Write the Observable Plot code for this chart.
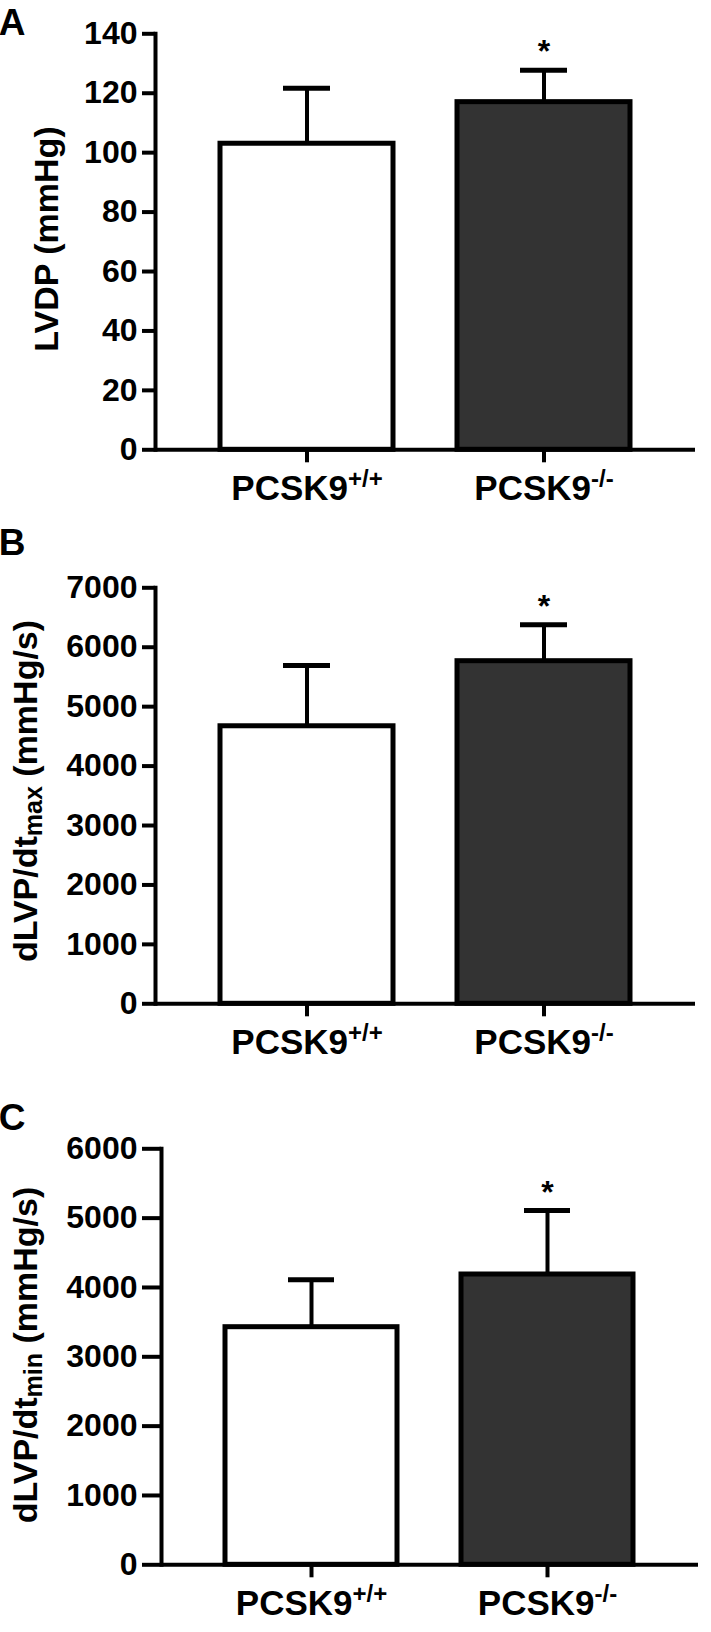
<!DOCTYPE html>
<html><head><meta charset="utf-8">
<script src="https://cdn.jsdelivr.net/npm/d3@7"></script>
<script src="https://cdn.jsdelivr.net/npm/@observablehq/plot@0.6"></script>
<style>
html,body{margin:0;padding:0;background:#fff;}
#wrap{position:relative;width:711px;height:1632px;overflow:hidden;}
#wrap > div{position:absolute;left:0;}
</style></head><body><div id="wrap"></div>
<script>
// ---- data ----
const groups = ["PCSK9+/+", "PCSK9-/-"];
const groupBase = ["PCSK9", "PCSK9"];
const groupSup = ["+/+", "-/-"];
const barFills = ["#ffffff", "#333333"];
const significance = ["", "*"];

const lvdpMean = [103, 117];
const lvdpErr = [18.7, 10.7];
const lvdpTicks = [0, 20, 40, 60, 80, 100, 120, 140];

const dmaxMean = [4670, 5765];
const dmaxErr = [1023, 612];
const dmaxTicks = [0, 1000, 2000, 3000, 4000, 5000, 6000, 7000];

const dminMean = [3427, 4187];
const dminErr = [684, 923];
const dminTicks = [0, 1000, 2000, 3000, 4000, 5000, 6000];

const FONT = "'Liberation Sans', Arial, Helvetica, sans-serif";

const panels = [
  {letter: "A", top: 0, height: 510, marginTop: 33.3, zeroY: 449.3, marginLeft: 155, marginRight: 16,
   yMax: 140, mean: lvdpMean, err: lvdpErr, ticks: lvdpTicks, yTickSize: 13,
   titleMain: "LVDP (mmHg)", titleSub: null, titleAfter: "", titleX: 58, titleY: 239, letterY: 35},
  {letter: "B", top: 510, height: 570, marginTop: 77.3, zeroY: 493.3, marginLeft: 155, marginRight: 16,
   yMax: 7000, mean: dmaxMean, err: dmaxErr, ticks: dmaxTicks, yTickSize: 13,
   titleMain: "dLVP/dt", titleSub: "max", titleAfter: " (mmHg/s)", titleX: 37, titleY: 281, letterY: 45},
  {letter: "C", top: 1080, height: 552, marginTop: 68.3, zeroY: 484.3, marginLeft: 161, marginRight: 13,
   yMax: 6000, mean: dminMean, err: dminErr, ticks: dminTicks, yTickSize: 19,
   titleMain: "dLVP/dt", titleSub: "min", titleAfter: " (mmHg/s)", titleX: 37, titleY: 275, letterY: 50}
];

const wrap = document.getElementById("wrap");

for (const p of panels) {
  const data = groups.map((g, i) => ({group: g, mean: p.mean[i], top: p.mean[i] + p.err[i], fill: barFills[i], sig: significance[i]}));
  const chart = Plot.plot({
    width: 711,
    height: p.height,
    marginTop: p.marginTop,
    marginBottom: p.height - p.zeroY,
    marginLeft: p.marginLeft,
    marginRight: p.marginRight,
    style: {fontFamily: FONT, fontWeight: "bold", color: "#000", background: "#fff", overflow: "visible"},
    color: {type: "identity"},
    x: {domain: groups, paddingInner: 0.27, paddingOuter: 0.27, axis: null},
    y: {domain: [0, p.yMax], axis: null},
    marks: [
      Plot.barY(data, {x: "group", y: "mean", fill: "fill", stroke: "#000", strokeWidth: 5}),
      Plot.ruleX(data, {x: "group", y1: "mean", y2: "top", stroke: "#000", strokeWidth: 4}),
      Plot.tickY(data, {x: "group", y: "top", stroke: "#000", strokeWidth: 5, insetLeft: 63, insetRight: 63}),
      Plot.text(data.filter(d => d.sig), {x: "group", y: "top", text: "sig", fontSize: 32, fontWeight: "bold", lineAnchor: "bottom", dy: -8, fill: "#000"}),
      Plot.ruleY([0], {stroke: "#000", strokeWidth: 4}),
      Plot.frame({anchor: "left", stroke: "#000", strokeWidth: 4}),
      Plot.axisY({ticks: p.ticks, tickSize: p.yTickSize, tickPadding: 5, strokeWidth: 4, fontSize: 32, fontWeight: "bold", label: null, tickFormat: d3.format("d")}),
      Plot.axisX({tickSize: 13, tickPadding: 12, strokeWidth: 4, fontSize: 35, fontWeight: "bold", label: null})
    ]
  });

  const svg = d3.select(chart);
  // superscripts on x tick labels
  svg.selectAll('g[aria-label="x-axis tick label"] text').each(function () {
    const t = this.textContent;
    const i = groups.indexOf(t);
    if (i < 0) return;
    const sel = d3.select(this);
    sel.text(null);
    sel.append("tspan").text(groupBase[i]);
    sel.append("tspan").attr("dy", -13).attr("font-size", 24).text(groupSup[i]);
  });
  // y-axis title with subscript
  const title = svg.append("text")
    .attr("transform", `translate(${p.titleX},${p.titleY}) rotate(-90)`)
    .attr("text-anchor", "middle")
    .attr("font-size", 34)
    .attr("font-weight", "bold")
    .attr("font-family", FONT)
    .attr("fill", "#000");
  title.append("tspan").text(p.titleMain);
  if (p.titleSub) {
    title.append("tspan").attr("dy", 5).attr("font-size", 25).text(p.titleSub);
    title.append("tspan").attr("dy", -5).text(p.titleAfter);
  }
  // panel letter
  svg.append("text")
    .attr("x", 12).attr("y", p.letterY)
    .attr("font-size", 37).attr("font-weight", "bold").attr("font-family", FONT).attr("fill", "#000")
    .text(p.letter);

  const div = document.createElement("div");
  div.style.top = p.top + "px";
  div.appendChild(chart);
  wrap.appendChild(div);
}
</script>
</body></html>
